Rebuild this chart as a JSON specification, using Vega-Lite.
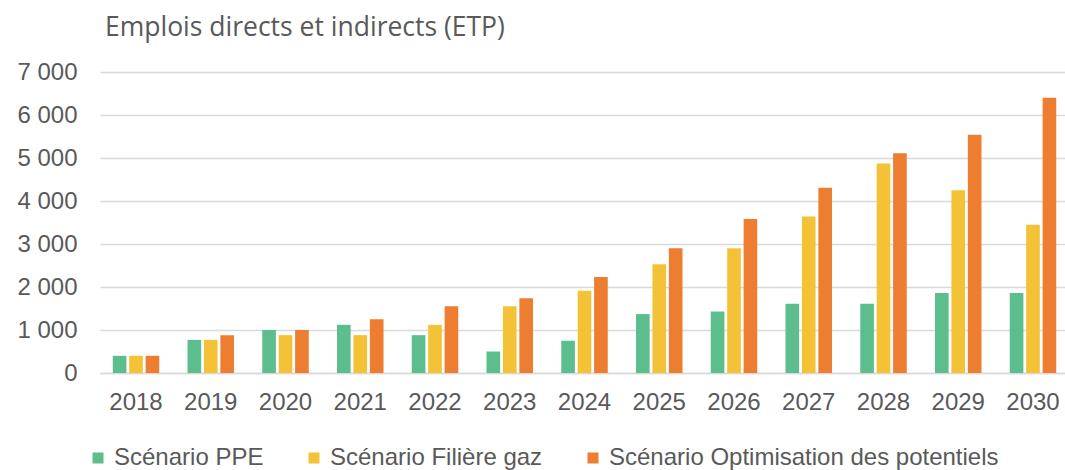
{
  "$schema": "https://vega.github.io/schema/vega-lite/v6.json",
  "width": 965,
  "height": 301,
  "autosize": {"type": "none"},
  "padding": {"left": 100, "top": 72, "right": 0, "bottom": 97},
  "background": "white",
  "title": {
    "text": "Emplois directs et indirects (ETP)",
    "anchor": "start",
    "frame": "group",
    "dx": 5,
    "offset": -2,
    "baseline": "alphabetic",
    "font": "Open Sans",
    "fontSize": 26.5,
    "fontWeight": "normal",
    "color": "#595959"
  },
  "data": {
    "values": [
      {"annee": "2018", "scenario": "Scénario PPE", "emplois": 400},
      {"annee": "2018", "scenario": "Scénario Filière gaz", "emplois": 400},
      {"annee": "2018", "scenario": "Scénario Optimisation des potentiels", "emplois": 400},
      {"annee": "2019", "scenario": "Scénario PPE", "emplois": 770},
      {"annee": "2019", "scenario": "Scénario Filière gaz", "emplois": 770},
      {"annee": "2019", "scenario": "Scénario Optimisation des potentiels", "emplois": 880},
      {"annee": "2020", "scenario": "Scénario PPE", "emplois": 1000},
      {"annee": "2020", "scenario": "Scénario Filière gaz", "emplois": 880},
      {"annee": "2020", "scenario": "Scénario Optimisation des potentiels", "emplois": 1000},
      {"annee": "2021", "scenario": "Scénario PPE", "emplois": 1120},
      {"annee": "2021", "scenario": "Scénario Filière gaz", "emplois": 880},
      {"annee": "2021", "scenario": "Scénario Optimisation des potentiels", "emplois": 1250},
      {"annee": "2022", "scenario": "Scénario PPE", "emplois": 880},
      {"annee": "2022", "scenario": "Scénario Filière gaz", "emplois": 1120},
      {"annee": "2022", "scenario": "Scénario Optimisation des potentiels", "emplois": 1550},
      {"annee": "2023", "scenario": "Scénario PPE", "emplois": 500},
      {"annee": "2023", "scenario": "Scénario Filière gaz", "emplois": 1550},
      {"annee": "2023", "scenario": "Scénario Optimisation des potentiels", "emplois": 1740},
      {"annee": "2024", "scenario": "Scénario PPE", "emplois": 750},
      {"annee": "2024", "scenario": "Scénario Filière gaz", "emplois": 1910},
      {"annee": "2024", "scenario": "Scénario Optimisation des potentiels", "emplois": 2230},
      {"annee": "2025", "scenario": "Scénario PPE", "emplois": 1370},
      {"annee": "2025", "scenario": "Scénario Filière gaz", "emplois": 2530},
      {"annee": "2025", "scenario": "Scénario Optimisation des potentiels", "emplois": 2900},
      {"annee": "2026", "scenario": "Scénario PPE", "emplois": 1430},
      {"annee": "2026", "scenario": "Scénario Filière gaz", "emplois": 2900},
      {"annee": "2026", "scenario": "Scénario Optimisation des potentiels", "emplois": 3580},
      {"annee": "2027", "scenario": "Scénario PPE", "emplois": 1610},
      {"annee": "2027", "scenario": "Scénario Filière gaz", "emplois": 3640},
      {"annee": "2027", "scenario": "Scénario Optimisation des potentiels", "emplois": 4310},
      {"annee": "2028", "scenario": "Scénario PPE", "emplois": 1610},
      {"annee": "2028", "scenario": "Scénario Filière gaz", "emplois": 4870},
      {"annee": "2028", "scenario": "Scénario Optimisation des potentiels", "emplois": 5110},
      {"annee": "2029", "scenario": "Scénario PPE", "emplois": 1860},
      {"annee": "2029", "scenario": "Scénario Filière gaz", "emplois": 4250},
      {"annee": "2029", "scenario": "Scénario Optimisation des potentiels", "emplois": 5540},
      {"annee": "2030", "scenario": "Scénario PPE", "emplois": 1860},
      {"annee": "2030", "scenario": "Scénario Filière gaz", "emplois": 3450},
      {"annee": "2030", "scenario": "Scénario Optimisation des potentiels", "emplois": 6400}
    ]
  },
  "mark": {"type": "bar"},
  "encoding": {
    "x": {
      "field": "annee",
      "type": "nominal",
      "scale": {"paddingInner": 0.378, "paddingOuter": 0.144, "align": 0.593},
      "axis": {
        "title": null,
        "labelAngle": 0,
        "ticks": false,
        "domain": true,
        "domainColor": "#d9d9d9",
        "domainWidth": 1.3,
        "labelPadding": 17,
        "labelFont": "Liberation Sans",
        "labelFontSize": 24,
        "labelColor": "#595959"
      }
    },
    "xOffset": {
      "field": "scenario",
      "type": "nominal",
      "sort": ["Scénario PPE", "Scénario Filière gaz", "Scénario Optimisation des potentiels"],
      "scale": {"paddingInner": 0.17, "paddingOuter": 0}
    },
    "y": {
      "field": "emplois",
      "type": "quantitative",
      "scale": {"domain": [0, 7000]},
      "axis": {
        "title": null,
        "values": [0, 1000, 2000, 3000, 4000, 5000, 6000, 7000],
        "labelExpr": "replace(format(datum.value, ','), ',', ' ')",
        "grid": true,
        "gridColor": "#d9d9d9",
        "gridWidth": 1.3,
        "domain": false,
        "ticks": false,
        "labelPadding": 23,
        "labelFont": "Liberation Sans",
        "labelFontSize": 24,
        "labelColor": "#595959"
      }
    },
    "color": {
      "field": "scenario",
      "type": "nominal",
      "sort": ["Scénario PPE", "Scénario Filière gaz", "Scénario Optimisation des potentiels"],
      "scale": {
        "domain": ["Scénario PPE", "Scénario Filière gaz", "Scénario Optimisation des potentiels"],
        "range": ["#5CBE8C", "#F4C237", "#EC7D31"]
      },
      "legend": {
        "title": null,
        "orient": "none",
        "legendX": -14,
        "legendY": 374,
        "direction": "horizontal",
        "padding": 0,
        "symbolType": "square",
        "symbolSize": 121,
        "symbolStrokeWidth": 0,
        "labelOffset": 4,
        "columnPadding": 38,
        "labelFont": "Liberation Sans",
        "labelFontSize": 24,
        "labelColor": "#595959",
        "labelLimit": 1000
      }
    }
  },
  "config": {
    "view": {"stroke": null}
  }
}
